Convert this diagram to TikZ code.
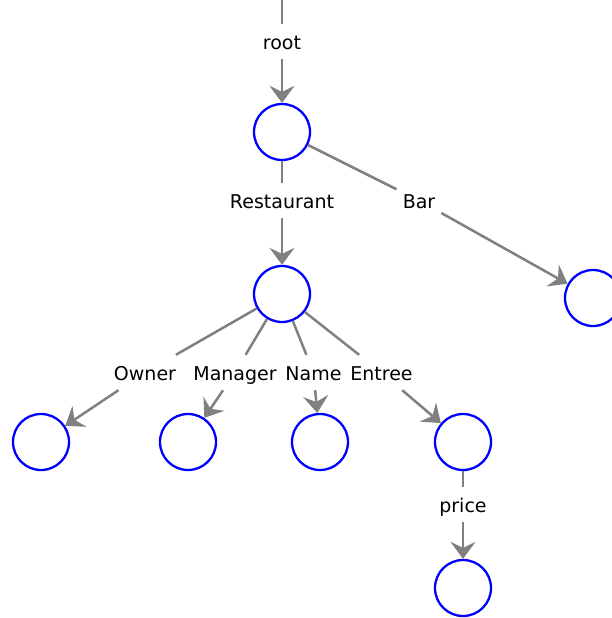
\documentclass[tikz,border=0pt]{standalone}
\usepackage{fontspec}
\setmainfont{DejaVu Sans}
\usepackage{pgf,tikz}
\usetikzlibrary{arrows.meta, positioning}
\definecolor{gris}{RGB}{128,128,128}
\definecolor{azul}{RGB}{0,0,255}
\tikzstyle{nodo} = [draw=azul, line width=2.3pt, circle, minimum size=56pt, inner sep=0pt]
\tikzstyle{etiqueta} = [font=\fontsize{19}{22}\selectfont, anchor=base, inner xsep=6pt, inner ysep=4pt, text height=21pt, text depth=6pt]
\tikzstyle{arista} = [draw=gris, line width=2.5pt]
\tikzstyle{flecha} = [arista, -{Stealth[length=17pt, width=25pt, inset=6pt]}]

\begin{document}
\begin{tikzpicture}[x=1pt, y=1pt]
	\useasboundingbox (0,0) rectangle (612,-618);
	% nodos
	\node[nodo] (raiz) at (282,-132) {};
	\node[nodo] (restaurante) at (282,-294) {};
	\node[nodo] (bar) at (593,-298) {};
	\node[nodo] (owner) at (41,-442) {};
	\node[nodo] (manager) at (188,-442) {};
	\node[nodo] (name) at (320,-442) {};
	\node[nodo] (entree) at (463,-442) {};
	\node[nodo] (price) at (463,-588) {};
	% etiquetas
	\coordinate (arriba) at (282,10);
	\node[etiqueta] (lroot) at (282,-49) {root};
	\node[etiqueta] (lrest) at (282,-208) {Restaurant};
	\node[etiqueta] (lbar) at (419,-208) {Bar};
	\node[etiqueta] (lowner) at (145,-380) {Owner};
	\node[etiqueta] (lmanager) at (235,-380) {Manager};
	\node[etiqueta] (lname) at (313.5,-380) {Name};
	\node[etiqueta] (lentree) at (381.5,-380) {Entree};
	\node[etiqueta] (lprice) at (463,-512) {price};
	% aristas
	\draw[arista] (arriba) -- (lroot);
	\draw[flecha] (lroot) -- (raiz);
	\draw[arista] (raiz) -- (lrest);
	\draw[flecha] (lrest) -- (restaurante);
	\draw[arista] (raiz) -- (lbar);
	\draw[flecha] (lbar) -- (bar);
	\draw[arista] (restaurante) -- (lowner);
	\draw[flecha] (lowner) -- (owner);
	\draw[arista] (restaurante) -- (lmanager);
	\draw[flecha] (lmanager) -- (manager);
	\draw[arista] (restaurante) -- (lname);
	\draw[flecha] (lname) -- (name);
	\draw[arista] (restaurante) -- (lentree);
	\draw[flecha] (lentree) -- (entree);
	\draw[arista] (entree) -- (lprice);
	\draw[flecha] (lprice) -- (price);
\end{tikzpicture}
\end{document}
